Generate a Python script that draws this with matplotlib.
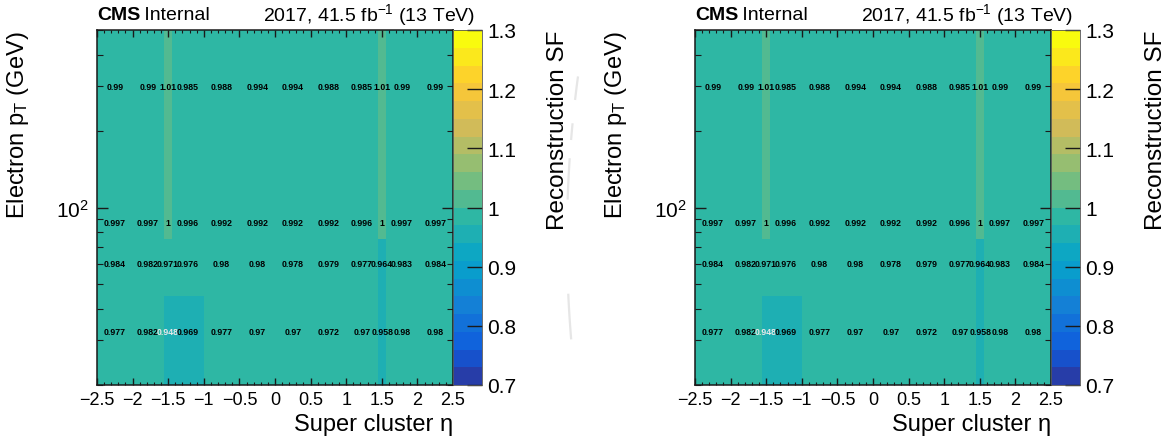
import numpy as np
import matplotlib
matplotlib.use("Agg")
import matplotlib.pyplot as plt
from matplotlib import ticker
from matplotlib.colors import LinearSegmentedColormap, ListedColormap, BoundaryNorm
from matplotlib.cm import ScalarMappable
from matplotlib.lines import Line2D

plt.rcParams['font.family'] = ['Liberation Sans', 'DejaVu Sans']
plt.rcParams['mathtext.fontset'] = 'custom'
plt.rcParams['mathtext.rm'] = 'Liberation Sans'
plt.rcParams['mathtext.it'] = 'Liberation Sans:italic'
plt.rcParams['mathtext.bf'] = 'Liberation Sans:bold'

# ---------------- data ----------------
eta_edges = [-2.5, -2.0, -1.566, -1.444, -1.0, -0.5, 0.0, 0.5, 1.0, 1.444, 1.566, 2.0, 2.5]
pt_edges = [20, 45, 75, 100, 500]

sf_pt20_45 = [0.977, 0.982, 0.948, 0.969, 0.977, 0.97, 0.97, 0.972, 0.97, 0.958, 0.98, 0.98]
sf_pt45_75 = [0.984, 0.982, 0.971, 0.976, 0.98, 0.98, 0.978, 0.979, 0.977, 0.964, 0.983, 0.984]
sf_pt75_100 = [0.997, 0.997, 1.0, 0.996, 0.992, 0.992, 0.992, 0.992, 0.996, 1.0, 0.997, 0.997]
sf_pt100_500 = [0.99, 0.99, 1.01, 0.985, 0.988, 0.994, 0.994, 0.988, 0.985, 1.01, 0.99, 0.99]

z_min, z_max, n_levels = 0.7, 1.3, 20
cbar_ticks = [0.7, 0.8, 0.9, 1.0, 1.1, 1.2, 1.3]
cbar_ticklabels = ["0.7", "0.8", "0.9", "1", "1.1", "1.2", "1.3"]
x_ticks = [-2.5, -2.0, -1.5, -1.0, -0.5, 0.0, 0.5, 1.0, 1.5, 2.0, 2.5]

sf = np.array([sf_pt20_45, sf_pt45_75, sf_pt75_100, sf_pt100_500])

# ---------------- ROOT kBird palette ----------------
stops = [0.0, 0.125, 0.25, 0.375, 0.5, 0.625, 0.75, 0.875, 1.0]
red = [0.2082, 0.0592, 0.0780, 0.0232, 0.1802, 0.5301, 0.8186, 0.9956, 0.9764]
green = [0.1664, 0.3599, 0.5041, 0.6419, 0.7178, 0.7492, 0.7328, 0.7862, 0.9832]
blue = [0.5293, 0.8684, 0.8385, 0.7914, 0.6425, 0.4662, 0.3499, 0.1968, 0.0539]
bird = LinearSegmentedColormap('bird', {
    'red': [(s, v, v) for s, v in zip(stops, red)],
    'green': [(s, v, v) for s, v in zip(stops, green)],
    'blue': [(s, v, v) for s, v in zip(stops, blue)],
}, N=255)
ncol = 255
level_colors = [bird(int((k + 0.99) * ncol / n_levels) / (ncol - 1)) for k in range(n_levels)]
cmap = ListedColormap(level_colors)
bounds = np.round(np.linspace(z_min, z_max, n_levels + 1), 6)
norm = BoundaryNorm(bounds, cmap.N)

W, H = 1167, 439
fig = plt.figure(figsize=(W / 100, H / 100), dpi=100)

frame_col = '#1a1a1a'


def panel(x_ax):
    ax = fig.add_axes([x_ax / W, 1 - 386 / H, 356 / W, 355 / H])
    ax.pcolormesh(eta_edges, pt_edges, sf, cmap=cmap, norm=norm, shading='flat')
    ax.set_yscale('log')
    ax.set_xlim(eta_edges[0], eta_edges[-1])
    ax.set_ylim(pt_edges[0], pt_edges[-1])

    xc = 0.5 * (np.array(eta_edges[:-1]) + np.array(eta_edges[1:]))
    yc = 0.5 * (np.array(pt_edges[:-1]) + np.array(pt_edges[1:]))
    for i, y in enumerate(yc):
        for j, x in enumerate(xc):
            v = sf[i, j]
            col = '#e8e8e8' if (i == 0 and j == 2) else 'black'
            ax.text(x, y, f"{v:.3g}", ha='center', va='center', fontsize=6.3,
                    fontweight='bold', color=col)

    ax.xaxis.set_major_locator(ticker.FixedLocator(x_ticks))
    ax.xaxis.set_minor_locator(ticker.MultipleLocator(0.1))
    ax.xaxis.set_major_formatter(ticker.FuncFormatter(lambda v, p: f"{v:g}".replace('-', '\u2212')))
    ax.yaxis.set_major_locator(ticker.FixedLocator([100]))
    ax.yaxis.set_major_formatter(ticker.FixedFormatter([r'$\mathregular{10^{2}}$']))
    ax.yaxis.set_minor_locator(ticker.FixedLocator([20, 30, 40, 50, 60, 70, 80, 90, 200, 300, 400, 500]))
    ax.yaxis.set_minor_formatter(ticker.NullFormatter())
    ax.tick_params(axis='x', which='major', direction='in', top=True, bottom=True,
                   length=5, width=1, labelsize=13, pad=4, color=frame_col)
    ax.tick_params(axis='x', which='minor', direction='in', top=True, bottom=True,
                   length=2.5, width=0.8, color=frame_col)
    ax.tick_params(axis='y', which='major', direction='in', left=True, right=True,
                   length=8, width=1, labelsize=15, pad=6, color=frame_col)
    ax.tick_params(axis='y', which='minor', direction='in', left=True, right=True,
                   length=4.5, width=0.8, color=frame_col)
    for s in ax.spines.values():
        s.set_linewidth(1.1)
        s.set_color(frame_col)

    ax.set_xlabel('Super cluster \u03b7', fontsize=17, loc='right', labelpad=4)
    ax.set_ylabel(r'Electron p$_\mathregular{T}$ (GeV)', fontsize=17, loc='top', labelpad=18)

    # colorbar
    cax = fig.add_axes([(x_ax + 356) / W, 1 - 386 / H, 29 / W, 355 / H])
    sm = ScalarMappable(norm=norm, cmap=cmap)
    cb = fig.colorbar(sm, cax=cax, ticks=cbar_ticks, drawedges=False)
    cb.outline.set_linewidth(0.6)
    cb.outline.set_edgecolor('#555555')
    cax.set_yticklabels(cbar_ticklabels)
    cax.yaxis.set_minor_locator(ticker.NullLocator())
    cax.tick_params(axis='y', which='major', direction='in', right=True, left=False,
                    length=11, width=1, labelsize=15, pad=4, color=frame_col)
    cax.set_ylabel('Reconstruction SF', fontsize=17.5, loc='top', labelpad=22)
    cax.yaxis.set_label_position('right')

    # header texts
    fig.text(x_ax / W, 1 - 15 / H, 'CMS', fontsize=14, fontweight='bold', va='center', ha='left')
    fig.text((x_ax + 42) / W, 1 - 15 / H, ' Internal', fontsize=14, va='center', ha='left')
    fig.text((x_ax + 378) / W, 1 - 15 / H, r'2017, 41.5 fb$^{\mathregular{-1}}$ (13 TeV)',
             fontsize=14, va='center', ha='right')
    return ax


panel(97)
panel(695)

# faint background arc artifact between panels
yy = np.linspace(70, 410, 400)
xx = 567 + 0.000416 * (yy - 240) ** 2
for lo, hi in [(78, 100), (125, 140), (160, 200), (295, 340)]:
    m = (yy >= lo) & (yy <= hi)
    fig.add_artist(Line2D(xx[m] / W, 1 - yy[m] / H, color='#e6e6e6', lw=1.6,
                          transform=fig.transFigure, zorder=-1))

fig.savefig('out.png', dpi=100)
